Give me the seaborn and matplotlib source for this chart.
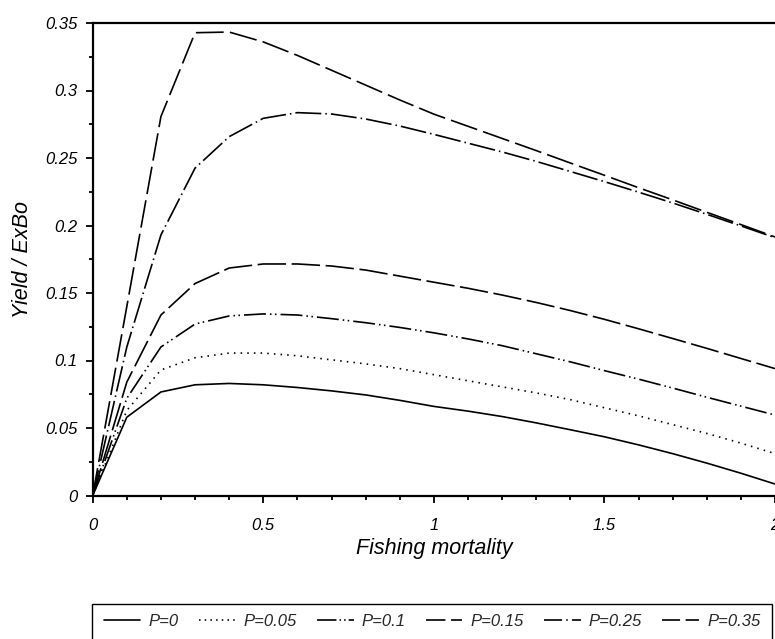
import matplotlib
matplotlib.use("Agg")
import matplotlib.pyplot as plt
import seaborn as sns
import pandas as pd
from matplotlib.lines import Line2D
from matplotlib.patches import Rectangle
from matplotlib.ticker import FixedLocator, MultipleLocator

# ---------------- data ----------------
fishing_mortality = [0.0, 0.1, 0.2, 0.3, 0.4, 0.5, 0.6, 0.7, 0.8, 0.9, 1.0,
                     1.1, 1.2, 1.3, 1.4, 1.5, 1.6, 1.7, 1.8, 1.9, 2.0]

yield_p0 = [0, 0.058, 0.0767, 0.082, 0.083, 0.082, 0.080, 0.0775, 0.0745, 0.0705, 0.066,
            0.0625, 0.0585, 0.0538, 0.0487, 0.0435, 0.0375, 0.031, 0.024, 0.0165, 0.0085]
yield_p005 = [0, 0.063, 0.093, 0.102, 0.1055, 0.1055, 0.1035, 0.1005, 0.0975, 0.094, 0.0895,
              0.085, 0.0805, 0.076, 0.071, 0.065, 0.059, 0.0525, 0.046, 0.0388, 0.031]
yield_p01 = [0, 0.072, 0.110, 0.127, 0.133, 0.1345, 0.1337, 0.131, 0.128, 0.1245, 0.1205,
             0.116, 0.111, 0.105, 0.099, 0.0925, 0.0862, 0.0796, 0.0728, 0.0662, 0.0596]
yield_p015 = [0, 0.084, 0.1337, 0.157, 0.1685, 0.1715, 0.1715, 0.170, 0.167, 0.1625, 0.158,
              0.1535, 0.1485, 0.143, 0.137, 0.1305, 0.1235, 0.1163, 0.109, 0.1015, 0.094]
yield_p025 = [0, 0.110, 0.193, 0.2425, 0.2658, 0.2794, 0.2836, 0.2826, 0.2789, 0.2737, 0.2675,
              0.261, 0.2545, 0.2475, 0.240, 0.2325, 0.2247, 0.2167, 0.2083, 0.1997, 0.191]
yield_p035 = [0, 0.140, 0.2807, 0.3428, 0.3433, 0.336, 0.326, 0.315, 0.304, 0.293, 0.2825,
              0.2735, 0.2645, 0.2555, 0.2463, 0.2372, 0.228, 0.219, 0.2098, 0.2007, 0.1915]

series_labels = ["P=0", "P=0.05", "P=0.1", "P=0.15", "P=0.25", "P=0.35"]
series_values = [yield_p0, yield_p005, yield_p01, yield_p015, yield_p025, yield_p035]

x_ticks = [0, 0.5, 1, 1.5, 2]
x_tick_labels = ["0", "0.5", "1", "1.5", "2"]
y_ticks = [0, 0.05, 0.1, 0.15, 0.2, 0.25, 0.3, 0.35]
y_tick_labels = ["0", "0.05", "0.1", "0.15", "0.2", "0.25", "0.3", "0.35"]

# ---------------- style ----------------
sns.set_theme(style="white")
plt.rcParams['font.family'] = ['Liberation Sans', 'DejaVu Sans']
plt.rcParams['lines.scale_dashes'] = False

dash_map = {
    "P=0": "",
    "P=0.05": (1.1, 3.7),
    "P=0.1": (15.8, 2.9, 1.1, 2.5, 1.1, 2.9),
    "P=0.15": (20.5, 4.0),
    "P=0.25": (18.7, 2.9, 1.1, 2.9),
    "P=0.35": (20.0, 4.5),
}
legend_dashes = {
    "P=0": None,
    "P=0.05": (1.1, 3.0),
    "P=0.1": (14, 2.2, 1.1, 2.2, 1.1, 2.2),
    "P=0.15": (14, 4),
    "P=0.25": (13, 3, 1.1, 3),
    "P=0.35": (13, 4),
}

rows = []
for lab, vals in zip(series_labels, series_values):
    for f, v in zip(fishing_mortality, vals):
        rows.append({"F": f, "Y": v, "P": lab})
df = pd.DataFrame(rows)

W, H = 775, 639
fig = plt.figure(figsize=(W / 100, H / 100), dpi=100)
ax = fig.add_axes([92.7 / W, 1 - 495.5 / H, (W - 92.7) / W, (495.5 - 23) / H])

sns.lineplot(data=df, x="F", y="Y", style="P", style_order=series_labels,
             dashes=dash_map, color="black", linewidth=1.2, estimator=None,
             sort=False, legend=False, ax=ax)

ax.set_xlim(0, 2)
ax.set_ylim(0, 0.35)

for side in ["left", "bottom", "top"]:
    ax.spines[side].set_visible(True)
    ax.spines[side].set_linewidth(1.6)
    ax.spines[side].set_color("black")
ax.spines["right"].set_visible(False)

ax.xaxis.set_major_locator(FixedLocator(x_ticks))
ax.set_xticklabels(x_tick_labels, fontstyle="italic", fontsize=12)
ax.yaxis.set_major_locator(FixedLocator(y_ticks))
ax.set_yticklabels(y_tick_labels, fontstyle="italic", fontsize=12)
ax.xaxis.set_minor_locator(MultipleLocator(0.1))
ax.yaxis.set_minor_locator(MultipleLocator(0.025))

ax.tick_params(axis="both", which="both", direction="out", colors="black",
               bottom=True, left=True, top=False, right=False)
ax.tick_params(axis="both", which="major", length=5, width=1.3)
ax.tick_params(axis="both", which="minor", length=3, width=1.3)
ax.tick_params(axis="x", which="major", pad=11)
ax.tick_params(axis="y", which="major", pad=6)
ax.grid(False)

ax.set_xlabel("Fishing mortality", fontsize=15.5, fontstyle="italic", labelpad=4, color="black")
ax.set_ylabel("Yield / ExBo", fontsize=15.5, fontstyle="italic", labelpad=9, color="black")

# legend
handles = []
for lab in series_labels:
    d = legend_dashes[lab]
    ls = "-" if d is None else (0, d)
    handles.append(Line2D([], [], color="black", linewidth=1.2, linestyle=ls))

fig.add_artist(Rectangle((92 / W, -0.05), 680 / W, 0.05 + (1 - 604 / H),
                         transform=fig.transFigure, fill=False, edgecolor="black",
                         linewidth=1.0, clip_on=False))
leg = fig.legend(handles, series_labels, loc="upper left",
                 bbox_to_anchor=(97 / W, 0, 670 / W, 1 - 607 / H),
                 mode="expand", ncol=6, frameon=False, borderaxespad=0,
                 borderpad=0.4, handlelength=2.2, handletextpad=0.5,
                 prop={"style": "italic", "size": 12, "family": "Liberation Sans"})

fig.savefig("out.png", dpi=100, facecolor="white")
